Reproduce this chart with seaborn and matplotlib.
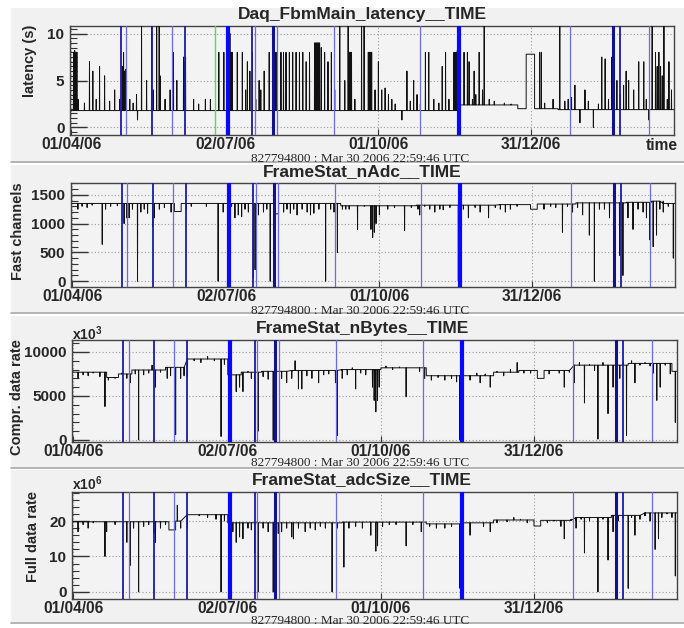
import numpy as np
import pandas as pd
import matplotlib
matplotlib.use("Agg")
import matplotlib.pyplot as plt
import seaborn as sns
from matplotlib.patches import Rectangle
from matplotlib.lines import Line2D
from matplotlib.ticker import MultipleLocator, FixedLocator

W, H = 684, 628

# ---------------- data (x = days since 01/04/06) ----------------
date_tick_days = [0, 92, 183, 274]
date_tick_labels = ["01/04/06", "02/07/06", "01/10/06", "31/12/06"]
subtitle = "827794800 : Mar 30 2006 22:59:46 UTC"
titles = ["Daq_FbmMain_latency__TIME", "FrameStat_nAdc__TIME",
          "FrameStat_nBytes__TIME", "FrameStat_adcSize__TIME"]
ylabels = ["latency (s)", "Fast channels", "Compr. data rate", "Full data rate"]

marker_days = [30, 33, 48, 60, 68, 86, 93.5, 108, 109.5, 120, 122.5, 156.5,
               208, 231, 297, 322.6, 327, 344]
marker_kinds = ["dark", "light", "dark", "light", "dark", "green", "thick", "dark",
                "light", "darkthick", "light", "light", "light", "thick", "light",
                "darkthick", "dark", "light"]

# latency
lat_level_days = [0, 231, 266, 271, 276, 290]
lat_level_vals = [1.8, 2.4, 2.0, 7.8, 2.0, 1.9]
lat_spike_days = [1.5, 2.2, 2.8, 3.5, 4.2, 8, 11, 13, 15, 17, 20, 23, 26, 29, 30.5, 31.3, 32,
                  32.6, 35, 37, 39, 39.6, 42, 45, 48, 49, 51, 52.5, 53, 56, 59, 61, 63, 67,
                  67.5, 68.2, 73, 76, 80, 83, 88, 91, 93, 93.4, 93.8, 94.2, 94.6, 95, 95.4,
                  96, 99, 102, 104, 105, 106.5, 108, 110, 112, 113, 115, 118, 120.5, 121.5,
                  122.5, 125, 126.5, 128, 130, 132, 134, 136, 138, 140, 142, 145, 145.5,
                  146, 146.5, 147, 147.5, 148, 149, 151, 153, 155, 157, 160,
                  163, 165, 165.5, 166, 166.5, 167, 169, 173, 174.5, 177, 177.5, 178,
                  178.5, 179, 181, 183, 185, 187, 189, 191, 193, 197, 200, 202, 204, 206,
                  208, 211, 213, 216, 219, 221, 223, 225, 228, 228.5, 229, 229.5, 230,
                  230.5, 234, 236, 237, 239, 240, 241, 243, 245, 246, 249, 252, 258, 262,
                  279, 280, 282, 287, 291, 294, 296, 298, 300, 303, 306, 308, 311, 314,
                  316, 318, 320, 322, 323.5, 325, 327, 329, 330.5, 332, 335, 338, 341,
                  342.5, 344, 346, 348, 349, 350, 351, 352, 353, 355, 356, 357.5]
lat_spike_vals = [8, 8.2, 7.9, 8, 3, 2.6, 7, 6, 3, 6.5, 5.5, 2.8, 4, 3, 6.5, 8, 6,
                  6.2, 3, 2.6, 3.5, 0.8, 12, 5, 12, 4, 12, 12, 5.5, 3, 4, 8, 5, 7.5,
                  7, 7.5, 3, 2.5, 3, 3, 8, 8, 8, 8, 8, 8, 10, 8, 8,
                  8, 8, 8, 4, 7, 6, 8, 3, 5, 4, 6, 8, 12, 8,
                  8, 8, 8, 8, 8, 8, 8, 8, 8, 7, 8, 9, 9,
                  9, 9, 9, 9, 9, 8.5, 8, 7, 8, 4, 12,
                  5, 12, 8, 8, 8, 8, 3, 12, 12, 8, 8, 8,
                  8, 8, 4, 7, 4, 4.2, 3.5, 3, 2.5, 0.8, 6, 2.8, 5, 3.5,
                  2.5, 8, 8, 3, 2.6, 6.5, 8, 3, 8, 8, 8, 8, 8.2,
                  -0.5, 8, 8, 7, 3, 6, 3.5, 8, 4, 12, 3, 2.8, 2.6, 2.5,
                  8, 8, 2.6, 3, 12, 2.8, 3, 3.2, 4.5, 0.5, 4, 2.8, 0, 2.5,
                  7.5, 7.3, 3, 7.5, 8, 5, 3.5, 4.5, 6, 5, 4, 7, 7,
                  3, 0.8, 12, 8, 6.5, 8, 6.5, 5.5, 12, 3, 7, 4]

# nAdc
adc_level_days = [0, 61, 65, 121, 123, 160, 205, 255, 273, 277, 300, 330, 345, 352]
adc_level_vals = [1350, 1210, 1350, 1170, 1350, 1310, 1320, 1330, 1250, 1340, 1360,
                  1370, 1390, 1350]
adc_spike_days = [3.5, 6, 9, 12, 18, 20, 23, 27, 31, 32.5, 34, 36, 39, 41, 43, 45, 48, 49,
                  52, 55, 59, 68, 71, 80, 87, 90, 93, 95, 97, 99, 101, 103, 105, 108, 109,
                  111, 114, 116, 118, 126, 128, 130, 132, 134, 137, 140, 142, 144, 147,
                  151, 154, 156, 158, 161, 163, 165, 170, 174, 178, 179, 180, 181, 183,
                  188, 192, 198, 202, 206, 207, 210, 213, 216, 219, 221, 225, 230, 230.5,
                  233, 236, 240, 243, 248, 252, 255, 258, 261, 265, 281, 285, 288, 292,
                  295, 298, 301, 304, 308, 311, 314, 317, 320, 323, 326, 328, 331, 334,
                  337, 340, 342, 344, 346, 348, 350, 352, 355, 358]
adc_spike_vals = [1250, 1300, 1280, 1320, 640, 1250, 1300, 1310, 1000, 1100, 1100, 1250, 0,
                  1200, 1250, 1180, 950, 1100, 1250, 1280, 1200, 1250, 1300, 1300, 0,
                  1200, 1280, 1300, 1100, 1150, 1120, 1250, 1200, 60, 200, 1150, 1200,
                  1250, 0, 1200, 1250, 1180, 1250, 1150, 1250, 1200, 1150, 1180, 1250,
                  0, 1250, 1200, 500, 1250, 1250, 1250, 900, 1300, 900, 760, 850, 1000,
                  1150, 1250, 1280, 880, 1280, 1250, 1150, 1300, 1250, 1200, 1250, 1240,
                  1280, 0, 550, 1250, 1100, 1280, 1200, 1100, 1280, 1250, 1200, 1250,
                  1300, 1250, 1300, 1280, 850, 1300, 1200, 1280, 1150, 800, 0, 1250,
                  1250, 1100, 1280, 450, 100, 1100, 900, 1250, 1200, 1100, 720, 600, 800,
                  1250, 1200, 1300, 400]

# nBytes (x10^3)
byt_level_days = [0, 20, 27, 35, 55, 68, 92, 100, 112, 130, 160, 183, 210, 232, 250,
                  265, 276, 280, 298, 330, 356]
byt_level_vals = [7700, 7100, 7500, 7950, 8250, 9200, 7400, 7700, 7800, 7900, 8000,
                  8200, 7300, 7300, 7700, 7900, 7000, 7900, 8500, 8700, 7800]
byt_spike_days = [3, 6, 9, 12, 16, 19, 21, 25, 29, 32, 33.5, 34, 37, 39, 42, 45, 47, 49,
                  52, 56, 58, 61, 64, 66, 68, 72, 76, 80, 84, 88, 90, 94, 97, 99, 101,
                  104, 106, 108, 110, 113, 116, 119, 124, 127, 130, 132, 134, 136, 139,
                  142, 146, 149, 152, 156, 157, 160, 163, 166, 168, 171, 174, 178, 179,
                  180, 181, 182, 186, 190, 194, 198, 202, 206, 209, 213, 217, 221, 225,
                  228, 230, 231, 232, 236, 240, 242, 245, 248, 252, 256, 260, 264, 268,
                  272, 283, 286, 289, 292, 295, 298, 301, 304, 307, 310, 312, 315, 318,
                  321, 323, 325, 327, 329, 332, 334, 337, 340, 343, 345, 347, 349, 352,
                  355, 358]
byt_spike_vals = [7000, 7400, 7300, 7600, 7200, 3800, 6800, 7000, 7600, 7000, 7500, 6500,
                  7500, 0, 7400, 7600, 8500, 6000, 7700, 7000, 7300, 600, 7000, 7300,
                  7200, 9000, 8800, 9500, 9000, 400, 8600, 7000, 5500, 6000, 5500, 7800,
                  7000, 0, 1000, 7200, 6900, 0, 7000, 6500, 7000, 9000, 5800, 5800,
                  7300, 7000, 6500, 7400, 7500, 6500, 500, 7000, 7400, 8200, 5800, 7600,
                  7400, 6000, 4500, 3200, 4500, 6000, 8400, 8000, 8300, 4900, 8200, 7800,
                  7000, 6800, 7100, 6800, 7000, 6600, 0, 6500, 7000, 6800, 7600, 6500,
                  7500, 6000, 7800, 7300, 8000, 8800, 7600, 7600, 7500, 7900, 7600, 6000,
                  7700, 6500, 8800, 4200, 8600, 7900, 100, 8800, 3000, 6000, 9000, 7000,
                  8800, 500, 9000, 6500, 8500, 8800, 8400, 7600, 4500, 6000, 8500, 7500,
                  2000]

# adcSize (x10^6)
siz_level_days = [0, 57, 61, 68, 92, 160, 210, 232, 250, 274, 278, 299, 320, 340]
siz_level_vals = [19.8, 17.5, 20, 21.8, 19.5, 19.7, 19.2, 19.5, 20.3, 18.6, 20.2, 21.0,
                  21.6, 22.3]
siz_spike_days = [3, 6, 9, 12, 19, 20, 25, 32, 34, 36, 39, 42, 45, 48, 49, 52, 55, 62, 64,
                  68, 75, 80, 85, 88, 90, 95, 97, 99, 101, 104, 106, 108, 110, 113, 116,
                  119, 122, 124, 127, 130, 131, 134, 138, 141, 144, 147, 150, 154, 157,
                  161, 164, 168, 172, 177, 180, 181, 184, 188, 192, 198, 202, 207, 212,
                  216, 221, 225, 230, 230.5, 232, 236, 240, 244, 248, 252, 258, 262, 266,
                  270, 282, 286, 290, 292, 296, 299, 302, 304, 307, 310, 312, 315, 318,
                  321, 324, 327, 330, 332, 334, 337, 340, 343, 346, 348, 350, 353, 356,
                  358]
siz_spike_vals = [17, 19, 18, 19.5, 10, 17, 19, 14, 7.5, 18, 0, 18.5, 19, 16.5, 14, 18,
                  19, 24.5, 18, 18, 21.5, 21, 20.5, 0, 20, 17, 14, 15.5, 15, 18, 17.5, 11,
                  0, 18, 17, 0, 16.5, 17, 18, 15.5, 15, 18, 17, 18, 17.5, 18.5, 18, 0, 18,
                  7, 18, 18.5, 18, 16, 11.5, 13, 18.5, 19, 19, 13, 19, 17, 18.5, 18, 18,
                  18.5, 1, 17, 18, 16, 19.5, 18.5, 17, 19.5, 19.8, 21, 20.5, 19.5, 19.5,
                  20, 18.5, 15, 20.5, 18, 20.5, 11, 20, 21, 0, 20.5, 9, 17, 20, 21, 1, 21,
                  16, 20.5, 21.5, 20, 12, 15, 21, 22, 21, 4.5]


def build(level_days, level_vals, spike_days, spike_vals, end=359.5, w=0.1):
    ld = np.asarray(level_days, float)
    lv = np.asarray(level_vals, float)

    def base_at(d):
        i = int(np.searchsorted(ld, d, side="right")) - 1
        return lv[max(i, 0)]

    pts = []
    for i in range(len(ld)):
        d1 = ld[i + 1] if i + 1 < len(ld) else end
        pts.append((ld[i], lv[i], 0))
        pts.append((d1 - 0.02, lv[i], 2))
    for d, v in zip(spike_days, spike_vals):
        b = base_at(d)
        pts += [(d - w, b, 1), (d, v, 1), (d + w, b, 1)]
    pts.sort(key=lambda p: (p[0], p[2]))
    return pd.DataFrame([(p[0], p[1]) for p in pts], columns=["day", "value"])


series = [
    build(lat_level_days, lat_level_vals, lat_spike_days, lat_spike_vals),
    build(adc_level_days, adc_level_vals, adc_spike_days, adc_spike_vals),
    build(byt_level_days, byt_level_vals, byt_spike_days, byt_spike_vals),
    build(siz_level_days, siz_level_vals, siz_spike_days, siz_spike_vals),
]

# ---------------- layout / styling ----------------
sns.set_theme(style="white")
plt.rcParams["font.family"] = ["Liberation Sans", "DejaVu Sans"]
plt.rcParams["mathtext.fontset"] = "custom"
plt.rcParams["mathtext.rm"] = "Liberation Sans:bold"
plt.rcParams["mathtext.bf"] = "Liberation Sans:bold"

BG = "#f1f1f1"
fig = plt.figure(figsize=(W / 100, H / 100), dpi=100, facecolor="white")


def fx(x):
    return x / W


def fy(y):
    return 1 - y / H


pads = [(8, 162), (165, 313), (316, 468), (470, 623)]
for top, bot in pads:
    fig.patches.append(Rectangle((fx(11), fy(bot)), fx(684 - 11), (bot - top) / H,
                                 transform=fig.transFigure, facecolor=BG,
                                 edgecolor="none", zorder=-10))
    fig.lines.append(Line2D([fx(11), 1], [fy(bot), fy(bot)], transform=fig.transFigure,
                            color="#a8a8a8", lw=1.2, zorder=-9))

panels = [
    dict(l=70, r=674, t=26, b=135, ylim=(-0.8, 10.8), major=5, minor=0.5,
         title_y=14, sub_y=158, yl_x=30),
    dict(l=71, r=675, t=183, b=287, ylim=(-100, 1705), major=500, minor=100,
         title_y=172, sub_y=311, yl_x=18),
    dict(l=72, r=677, t=340, b=442, ylim=(-230, 11360), major=5000, minor=1000,
         title_y=328, sub_y=463, yl_x=17),
    dict(l=72, r=677, t=492, b=599, ylim=(-2, 28.2), major=10, minor=2,
         title_y=480, sub_y=620, yl_x=33),
]

mstyle = {
    "dark": dict(color="#1c1ca8", lw=1.3),
    "light": dict(color="#6a6ae6", lw=0.9),
    "thick": dict(color="#0808ff", lw=3.0),
    "darkthick": dict(color="#121290", lw=2.2),
    "green": dict(color="#55dd55", lw=1.0),
}

for k, (p, df) in enumerate(zip(panels, series)):
    ax = fig.add_axes([fx(p["l"]), fy(p["b"]), (p["r"] - p["l"]) / W,
                       (p["b"] - p["t"]) / H])
    ax.set_zorder(1)
    ax.set_facecolor("#f3f3f3")
    sns.lineplot(data=df, x="day", y="value", ax=ax, color="#111111", lw=0.7,
                 sort=False, estimator=None, zorder=3)
    for d, kind in zip(marker_days, marker_kinds):
        if kind == "green" and k != 0:
            continue
        ax.axvline(d, zorder=4, **mstyle[kind])
    ax.set_xlim(-0.6, 359)
    ax.set_ylim(*p["ylim"])
    ax.set_xlabel("")
    ax.set_ylabel("")
    ax.xaxis.set_major_locator(FixedLocator(date_tick_days))
    ax.set_xticklabels(date_tick_labels)
    ax.yaxis.set_major_locator(MultipleLocator(p["major"]))
    ax.yaxis.set_minor_locator(MultipleLocator(p["minor"]))
    ax.tick_params(axis="y", which="major", direction="in", length=12, width=1,
                   color="#333333", left=True, pad=4, labelsize=11)
    ax.tick_params(axis="y", which="minor", direction="in", length=5, width=0.8,
                   color="#333333", left=True)
    ax.tick_params(axis="x", which="major", direction="in", length=4, width=0.8,
                   color="#333333", bottom=True, pad=1.5, labelsize=11.2)
    for lab in ax.get_xticklabels() + ax.get_yticklabels():
        lab.set_fontweight("bold")
    ax.grid(True, which="major", linestyle=(0, (1, 2)), color="#9a9a9a", lw=0.8)
    for s in ax.spines.values():
        s.set_color("#444444")
        s.set_linewidth(1.0)
        s.set_visible(True)

    fig.text(fx(362), fy(p["title_y"]), titles[k], ha="center", va="center",
             fontsize=12.5, fontweight="bold")
    fig.text(fx(360), fy(p["sub_y"] + 0.5), subtitle, ha="center", va="center",
             fontsize=9.5, family=["Liberation Serif", "DejaVu Serif"])
    fig.text(fx(p["yl_x"]), fy(p["t"] - 1), ylabels[k], rotation=90, ha="center",
             va="top", fontsize=10.5, fontweight="bold")

fig.text(fx(662), fy(145), "time", ha="center", va="center", fontsize=11.2,
         fontweight="bold")
fig.text(fx(72), fy(334), r"x10$^{3}$", ha="left", va="center", fontsize=10,
         fontweight="bold")
fig.text(fx(72), fy(484), r"x10$^{6}$", ha="left", va="center", fontsize=10,
         fontweight="bold")

fig.savefig("out.png", dpi=100, facecolor="white")
